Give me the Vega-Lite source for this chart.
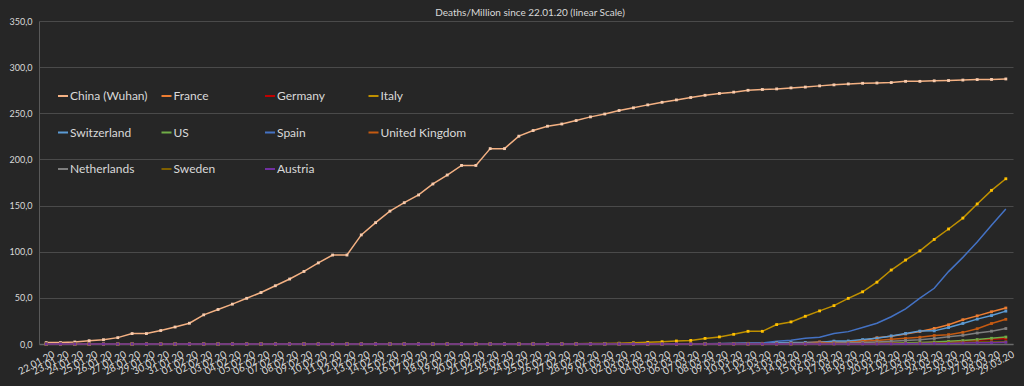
{
"$schema":"https://vega.github.io/schema/vega-lite/v6.json",
"width":974,"height":323,
"autosize":{"type":"none"},
"padding":{"left":39,"top":21,"right":11,"bottom":42},
"background":"#262626",
"title":{"text":"Deaths/Million since 22.01.20 (linear Scale)","color":"#d9d9d9","fontSize":10,"fontWeight":"normal","font":"Lato","offset":-1,"dx":4},
"config":{"view":{"stroke":null}},
"data":{"values":[
{"d":"2020-01-22","China (Wuhan)":1.5,"France":0,"Germany":0,"Italy":0,"Switzerland":0,"US":0,"Spain":0,"United Kingdom":0,"Netherlands":0,"Sweden":0,"Austria":0},
{"d":"2020-01-23","China (Wuhan)":1.5,"France":0,"Germany":0,"Italy":0,"Switzerland":0,"US":0,"Spain":0,"United Kingdom":0,"Netherlands":0,"Sweden":0,"Austria":0},
{"d":"2020-01-24","China (Wuhan)":2.2,"France":0,"Germany":0,"Italy":0,"Switzerland":0,"US":0,"Spain":0,"United Kingdom":0,"Netherlands":0,"Sweden":0,"Austria":0},
{"d":"2020-01-25","China (Wuhan)":3.6,"France":0,"Germany":0,"Italy":0,"Switzerland":0,"US":0,"Spain":0,"United Kingdom":0,"Netherlands":0,"Sweden":0,"Austria":0},
{"d":"2020-01-26","China (Wuhan)":4.7,"France":0,"Germany":0,"Italy":0,"Switzerland":0,"US":0,"Spain":0,"United Kingdom":0,"Netherlands":0,"Sweden":0,"Austria":0},
{"d":"2020-01-27","China (Wuhan)":6.9,"France":0,"Germany":0,"Italy":0,"Switzerland":0,"US":0,"Spain":0,"United Kingdom":0,"Netherlands":0,"Sweden":0,"Austria":0},
{"d":"2020-01-28","China (Wuhan)":11.3,"France":0,"Germany":0,"Italy":0,"Switzerland":0,"US":0,"Spain":0,"United Kingdom":0,"Netherlands":0,"Sweden":0,"Austria":0},
{"d":"2020-01-29","China (Wuhan)":11.3,"France":0,"Germany":0,"Italy":0,"Switzerland":0,"US":0,"Spain":0,"United Kingdom":0,"Netherlands":0,"Sweden":0,"Austria":0},
{"d":"2020-01-30","China (Wuhan)":14.6,"France":0,"Germany":0,"Italy":0,"Switzerland":0,"US":0,"Spain":0,"United Kingdom":0,"Netherlands":0,"Sweden":0,"Austria":0},
{"d":"2020-01-31","China (Wuhan)":18.4,"France":0,"Germany":0,"Italy":0,"Switzerland":0,"US":0,"Spain":0,"United Kingdom":0,"Netherlands":0,"Sweden":0,"Austria":0},
{"d":"2020-02-01","China (Wuhan)":22.5,"France":0,"Germany":0,"Italy":0,"Switzerland":0,"US":0,"Spain":0,"United Kingdom":0,"Netherlands":0,"Sweden":0,"Austria":0},
{"d":"2020-02-02","China (Wuhan)":31.6,"France":0,"Germany":0,"Italy":0,"Switzerland":0,"US":0,"Spain":0,"United Kingdom":0,"Netherlands":0,"Sweden":0,"Austria":0},
{"d":"2020-02-03","China (Wuhan)":37.4,"France":0,"Germany":0,"Italy":0,"Switzerland":0,"US":0,"Spain":0,"United Kingdom":0,"Netherlands":0,"Sweden":0,"Austria":0},
{"d":"2020-02-04","China (Wuhan)":43.2,"France":0,"Germany":0,"Italy":0,"Switzerland":0,"US":0,"Spain":0,"United Kingdom":0,"Netherlands":0,"Sweden":0,"Austria":0},
{"d":"2020-02-05","China (Wuhan)":49.5,"France":0,"Germany":0,"Italy":0,"Switzerland":0,"US":0,"Spain":0,"United Kingdom":0,"Netherlands":0,"Sweden":0,"Austria":0},
{"d":"2020-02-06","China (Wuhan)":55.8,"France":0,"Germany":0,"Italy":0,"Switzerland":0,"US":0,"Spain":0,"United Kingdom":0,"Netherlands":0,"Sweden":0,"Austria":0},
{"d":"2020-02-07","China (Wuhan)":63.1,"France":0,"Germany":0,"Italy":0,"Switzerland":0,"US":0,"Spain":0,"United Kingdom":0,"Netherlands":0,"Sweden":0,"Austria":0},
{"d":"2020-02-08","China (Wuhan)":70.4,"France":0,"Germany":0,"Italy":0,"Switzerland":0,"US":0,"Spain":0,"United Kingdom":0,"Netherlands":0,"Sweden":0,"Austria":0},
{"d":"2020-02-09","China (Wuhan)":78.6,"France":0,"Germany":0,"Italy":0,"Switzerland":0,"US":0,"Spain":0,"United Kingdom":0,"Netherlands":0,"Sweden":0,"Austria":0},
{"d":"2020-02-10","China (Wuhan)":87.9,"France":0,"Germany":0,"Italy":0,"Switzerland":0,"US":0,"Spain":0,"United Kingdom":0,"Netherlands":0,"Sweden":0,"Austria":0},
{"d":"2020-02-11","China (Wuhan)":96.4,"France":0,"Germany":0,"Italy":0,"Switzerland":0,"US":0,"Spain":0,"United Kingdom":0,"Netherlands":0,"Sweden":0,"Austria":0},
{"d":"2020-02-12","China (Wuhan)":96.4,"France":0,"Germany":0,"Italy":0,"Switzerland":0,"US":0,"Spain":0,"United Kingdom":0,"Netherlands":0,"Sweden":0,"Austria":0},
{"d":"2020-02-13","China (Wuhan)":118.2,"France":0,"Germany":0,"Italy":0,"Switzerland":0,"US":0,"Spain":0,"United Kingdom":0,"Netherlands":0,"Sweden":0,"Austria":0},
{"d":"2020-02-14","China (Wuhan)":131.5,"France":0,"Germany":0,"Italy":0,"Switzerland":0,"US":0,"Spain":0,"United Kingdom":0,"Netherlands":0,"Sweden":0,"Austria":0},
{"d":"2020-02-15","China (Wuhan)":144.0,"France":0.01,"Germany":0,"Italy":0,"Switzerland":0,"US":0,"Spain":0,"United Kingdom":0,"Netherlands":0,"Sweden":0,"Austria":0},
{"d":"2020-02-16","China (Wuhan)":153.1,"France":0.01,"Germany":0,"Italy":0,"Switzerland":0,"US":0,"Spain":0,"United Kingdom":0,"Netherlands":0,"Sweden":0,"Austria":0},
{"d":"2020-02-17","China (Wuhan)":161.5,"France":0.01,"Germany":0,"Italy":0,"Switzerland":0,"US":0,"Spain":0,"United Kingdom":0,"Netherlands":0,"Sweden":0,"Austria":0},
{"d":"2020-02-18","China (Wuhan)":173.4,"France":0.01,"Germany":0,"Italy":0,"Switzerland":0,"US":0,"Spain":0,"United Kingdom":0,"Netherlands":0,"Sweden":0,"Austria":0},
{"d":"2020-02-19","China (Wuhan)":183.1,"France":0.01,"Germany":0,"Italy":0,"Switzerland":0,"US":0,"Spain":0,"United Kingdom":0,"Netherlands":0,"Sweden":0,"Austria":0},
{"d":"2020-02-20","China (Wuhan)":193.5,"France":0.01,"Germany":0,"Italy":0,"Switzerland":0,"US":0,"Spain":0,"United Kingdom":0,"Netherlands":0,"Sweden":0,"Austria":0},
{"d":"2020-02-21","China (Wuhan)":193.5,"France":0.01,"Germany":0,"Italy":0.02,"Switzerland":0,"US":0,"Spain":0,"United Kingdom":0,"Netherlands":0,"Sweden":0,"Austria":0},
{"d":"2020-02-22","China (Wuhan)":211.7,"France":0.01,"Germany":0,"Italy":0.03,"Switzerland":0,"US":0,"Spain":0,"United Kingdom":0,"Netherlands":0,"Sweden":0,"Austria":0},
{"d":"2020-02-23","China (Wuhan)":211.7,"France":0.01,"Germany":0,"Italy":0.05,"Switzerland":0,"US":0,"Spain":0,"United Kingdom":0,"Netherlands":0,"Sweden":0,"Austria":0},
{"d":"2020-02-24","China (Wuhan)":225.2,"France":0.01,"Germany":0,"Italy":0.12,"Switzerland":0,"US":0,"Spain":0,"United Kingdom":0,"Netherlands":0,"Sweden":0,"Austria":0},
{"d":"2020-02-25","China (Wuhan)":231.3,"France":0.01,"Germany":0,"Italy":0.17,"Switzerland":0,"US":0,"Spain":0,"United Kingdom":0,"Netherlands":0,"Sweden":0,"Austria":0},
{"d":"2020-02-26","China (Wuhan)":236.0,"France":0.03,"Germany":0,"Italy":0.2,"Switzerland":0,"US":0,"Spain":0,"United Kingdom":0,"Netherlands":0,"Sweden":0,"Austria":0},
{"d":"2020-02-27","China (Wuhan)":238.4,"France":0.03,"Germany":0,"Italy":0.28,"Switzerland":0,"US":0,"Spain":0,"United Kingdom":0,"Netherlands":0,"Sweden":0,"Austria":0},
{"d":"2020-02-28","China (Wuhan)":242.1,"France":0.03,"Germany":0,"Italy":0.35,"Switzerland":0,"US":0,"Spain":0,"United Kingdom":0,"Netherlands":0,"Sweden":0,"Austria":0},
{"d":"2020-02-29","China (Wuhan)":246.1,"France":0.03,"Germany":0,"Italy":0.48,"Switzerland":0,"US":0.003,"Spain":0,"United Kingdom":0,"Netherlands":0,"Sweden":0,"Austria":0},
{"d":"2020-03-01","China (Wuhan)":249.2,"France":0.03,"Germany":0,"Italy":0.56,"Switzerland":0,"US":0.003,"Spain":0,"United Kingdom":0,"Netherlands":0,"Sweden":0,"Austria":0},
{"d":"2020-03-02","China (Wuhan)":253.0,"France":0.04,"Germany":0,"Italy":0.86,"Switzerland":0,"US":0.02,"Spain":0,"United Kingdom":0,"Netherlands":0,"Sweden":0,"Austria":0},
{"d":"2020-03-03","China (Wuhan)":255.9,"France":0.06,"Germany":0,"Italy":1.31,"Switzerland":0,"US":0.02,"Spain":0.02,"United Kingdom":0,"Netherlands":0,"Sweden":0,"Austria":0},
{"d":"2020-03-04","China (Wuhan)":259.1,"France":0.06,"Germany":0,"Italy":1.78,"Switzerland":0,"US":0.03,"Spain":0.04,"United Kingdom":0,"Netherlands":0,"Sweden":0,"Austria":0},
{"d":"2020-03-05","China (Wuhan)":261.9,"France":0.09,"Germany":0,"Italy":2.46,"Switzerland":0.12,"US":0.04,"Spain":0.06,"United Kingdom":0.02,"Netherlands":0,"Sweden":0,"Austria":0},
{"d":"2020-03-06","China (Wuhan)":264.5,"France":0.13,"Germany":0,"Italy":3.27,"Switzerland":0.12,"US":0.04,"Spain":0.11,"United Kingdom":0.04,"Netherlands":0.02,"Sweden":0,"Austria":0},
{"d":"2020-03-07","China (Wuhan)":267.1,"France":0.16,"Germany":0,"Italy":3.87,"Switzerland":0.12,"US":0.05,"Spain":0.22,"United Kingdom":0.04,"Netherlands":0.02,"Sweden":0,"Austria":0},
{"d":"2020-03-08","China (Wuhan)":269.5,"France":0.28,"Germany":0,"Italy":6.08,"Switzerland":0.23,"US":0.06,"Spain":0.37,"United Kingdom":0.07,"Netherlands":0.07,"Sweden":0,"Austria":0},
{"d":"2020-03-09","China (Wuhan)":271.5,"France":0.28,"Germany":0.02,"Italy":7.69,"Switzerland":0.23,"US":0.07,"Spain":0.6,"United Kingdom":0.09,"Netherlands":0.07,"Sweden":0,"Austria":0},
{"d":"2020-03-10","China (Wuhan)":272.9,"France":0.49,"Germany":0.02,"Italy":10.48,"Switzerland":0.35,"US":0.09,"Spain":0.75,"United Kingdom":0.13,"Netherlands":0.09,"Sweden":0,"Austria":0},
{"d":"2020-03-11","China (Wuhan)":274.9,"France":0.72,"Germany":0.04,"Italy":13.74,"Switzerland":0.47,"US":0.11,"Spain":1.16,"United Kingdom":0.17,"Netherlands":0.11,"Sweden":0.02,"Austria":0},
{"d":"2020-03-12","China (Wuhan)":275.8,"France":0.72,"Germany":0.04,"Italy":13.74,"Switzerland":0.47,"US":0.12,"Spain":1.18,"United Kingdom":0.17,"Netherlands":0.11,"Sweden":0.02,"Austria":0.02},
{"d":"2020-03-13","China (Wuhan)":276.4,"France":1.18,"Germany":0.08,"Italy":21.03,"Switzerland":1.28,"US":0.14,"Spain":2.86,"United Kingdom":0.17,"Netherlands":0.22,"Sweden":0.02,"Austria":0.02},
{"d":"2020-03-14","China (Wuhan)":277.5,"France":1.36,"Germany":0.11,"Italy":23.94,"Switzerland":1.52,"US":0.16,"Spain":4.19,"United Kingdom":0.46,"Netherlands":0.26,"Sweden":0.04,"Austria":0.02},
{"d":"2020-03-15","China (Wuhan)":278.4,"France":1.36,"Germany":0.13,"Italy":30.05,"Switzerland":1.63,"US":0.19,"Spain":6.22,"United Kingdom":0.46,"Netherlands":0.43,"Sweden":0.07,"Austria":0.02},
{"d":"2020-03-16","China (Wuhan)":279.7,"France":2.22,"Germany":0.2,"Italy":35.85,"Switzerland":1.63,"US":0.26,"Spain":7.35,"United Kingdom":1.22,"Netherlands":0.52,"Sweden":0.13,"Austria":0.02},
{"d":"2020-03-17","China (Wuhan)":280.8,"France":2.22,"Germany":0.29,"Italy":41.58,"Switzerland":3.15,"US":0.33,"Spain":11.46,"United Kingdom":1.22,"Netherlands":0.93,"Sweden":0.15,"Austria":0.07},
{"d":"2020-03-18","China (Wuhan)":281.8,"France":2.22,"Germany":0.34,"Italy":49.47,"Switzerland":3.27,"US":0.36,"Spain":13.4,"United Kingdom":1.57,"Netherlands":1.26,"Sweden":0.22,"Austria":0.07},
{"d":"2020-03-19","China (Wuhan)":282.5,"France":3.64,"Germany":0.53,"Italy":56.56,"Switzerland":4.78,"US":0.61,"Spain":17.85,"United Kingdom":3.0,"Netherlands":1.65,"Sweden":0.24,"Austria":0.13},
{"d":"2020-03-20","China (Wuhan)":282.8,"France":6.73,"Germany":0.81,"Italy":66.98,"Switzerland":6.3,"US":0.74,"Spain":22.43,"United Kingdom":3.87,"Netherlands":2.3,"Sweden":0.35,"Austria":0.13},
{"d":"2020-03-21","China (Wuhan)":283.3,"France":8.4,"Germany":1.01,"Italy":80.15,"Switzerland":8.75,"US":0.94,"Spain":29.57,"United Kingdom":5.09,"Netherlands":2.96,"Sweden":0.43,"Austria":0.17},
{"d":"2020-03-22","China (Wuhan)":284.6,"France":10.9,"Germany":1.13,"Italy":90.96,"Switzerland":11.44,"US":1.3,"Spain":38.11,"United Kingdom":6.13,"Netherlands":3.89,"Sweden":0.46,"Austria":0.35},
{"d":"2020-03-23","China (Wuhan)":284.6,"France":13.6,"Germany":1.48,"Italy":100.95,"Switzerland":14.0,"US":1.68,"Spain":49.7,"United Kingdom":7.3,"Netherlands":4.63,"Sweden":0.54,"Austria":0.46},
{"d":"2020-03-24","China (Wuhan)":285.2,"France":16.9,"Germany":1.89,"Italy":113.29,"Switzerland":14.24,"US":2.15,"Spain":60.39,"United Kingdom":9.2,"Netherlands":6.0,"Sweden":0.78,"Austria":0.61},
{"d":"2020-03-25","China (Wuhan)":285.5,"France":20.8,"Germany":2.48,"Italy":124.63,"Switzerland":17.85,"US":2.87,"Spain":78.43,"United Kingdom":10.13,"Netherlands":7.74,"Sweden":1.35,"Austria":0.65},
{"d":"2020-03-26","China (Wuhan)":286.0,"France":26.3,"Germany":3.22,"Italy":136.46,"Switzerland":22.29,"US":3.69,"Spain":93.87,"United Kingdom":12.61,"Netherlands":9.43,"Sweden":1.67,"Austria":1.07},
{"d":"2020-03-27","China (Wuhan)":286.5,"France":30.5,"Germany":4.12,"Italy":151.73,"Switzerland":26.95,"US":4.82,"Spain":110.49,"United Kingdom":16.54,"Netherlands":11.87,"Sweden":2.28,"Austria":1.26},
{"d":"2020-03-28","China (Wuhan)":286.7,"France":34.9,"Germany":5.22,"Italy":166.5,"Switzerland":30.81,"US":6.18,"Spain":128.65,"United Kingdom":22.2,"Netherlands":13.89,"Sweden":2.28,"Austria":1.48},
{"d":"2020-03-29","China (Wuhan)":287.2,"France":38.97,"Germany":6.0,"Italy":179.05,"Switzerland":35.6,"US":7.52,"Spain":146.3,"United Kingdom":26.76,"Netherlands":16.76,"Sweden":2.39,"Austria":1.87}
]},
"transform":[{"fold":["China (Wuhan)","France","Germany","Italy","Switzerland","US","Spain","United Kingdom","Netherlands","Sweden","Austria"],"as":["country","value"]}],
"encoding":{
"x":{"field":"d","type":"ordinal","timeUnit":"utcyearmonthdate","scale":{"type":"point","padding":0.5},
"axis":{"title":null,"format":"%d.%m.%y","labelAngle":-28,"labelAlign":"right","labelBaseline":"top","labelFontSize":10,"labelFont":"Lato","labelColor":"#d9d9d9","labelOverlap":false,"labelBound":false,"labelPadding":5,"labelOffset":5,"ticks":false,"grid":false,"domainColor":"#6a6a6a","domainWidth":1.5}},
"y":{"field":"value","type":"quantitative","scale":{"domain":[0,350],"nice":false},
"axis":{"title":null,"values":[0,50,100,150,200,250,300,350],"labelExpr":"replace(format(datum.value,'.1f'),'.',',')","labelFontSize":9,"labelFont":"Lato","labelColor":"#d9d9d9","labelPadding":7,"ticks":false,"gridColor":"#4a4a4a","gridWidth":1,"domainColor":"#595959"}}
},
"layer":[
{"mark":{"type":"line","strokeWidth":1.5},
"encoding":{"color":{"field":"country","type":"nominal",
"scale":{"domain":["China (Wuhan)","France","Germany","Italy","Switzerland","US","Spain","United Kingdom","Netherlands","Sweden","Austria"],
"range":["#F4B183","#ED7D31","#C00000","#BF9000","#5B9BD5","#70AD47","#4472C4","#C55A11","#7F7F7F","#7F6000","#7030A0"]},
"legend":{"title":null,"orient":"none","legendX":18,"legendY":69,"direction":"horizontal","columns":4,"gridAlign":"all","columnPadding":1.5,"rowPadding":24.5,"labelColor":"#d9d9d9","labelFontSize":12,"labelFont":"Lato","symbolType":"stroke","symbolSize":100,"symbolStrokeWidth":2,"labelOffset":1,"padding":0}}}},
{"transform":[{"filter":"datum.country !== 'Spain'"}],
"mark":{"type":"square","size":8,"opacity":1},
"encoding":{"fill":{"field":"country","type":"nominal",
"scale":{"domain":["China (Wuhan)","France","Germany","Italy","Switzerland","US","Spain","United Kingdom","Netherlands","Sweden","Austria"],
"range":["#F8CBAD","#ED7D31","#C00000","#FFC000","#5B9BD5","#70AD47","#4472C4","#C55A11","#7F7F7F","#997300","#7030A0"]},"legend":null}}}
]
}
